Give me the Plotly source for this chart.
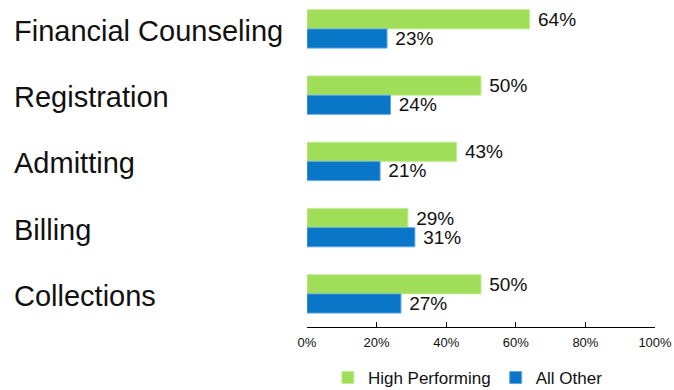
import plotly.graph_objects as go

categories = ["Financial Counseling", "Registration", "Admitting", "Billing", "Collections"]
high_performing = [64, 50, 43, 29, 50]
all_other = [23, 24, 21, 31, 27]
tick_vals = [0, 20, 40, 60, 80, 100]
tick_text = ["0%", "20%", "40%", "60%", "80%", "100%"]

GREEN = "#A0DE5A"
BLUE = "#0A76C8"
FONT = "Liberation Sans, Arial, sans-serif"

fig = go.Figure()
fig.add_trace(go.Bar(
    name="High Performing", y=categories, x=high_performing, orientation="h",
    marker=dict(color=GREEN, line=dict(color="#C4EC96", width=1)),
    text=[f" {v}%" for v in high_performing], textposition="outside",
    constraintext="none",
    textfont=dict(size=19, color="#111111"), cliponaxis=False,
))
fig.add_trace(go.Bar(
    name="All Other", y=categories, x=all_other, orientation="h",
    marker=dict(color=BLUE, line=dict(color="#5FA8E0", width=1)),
    text=[f" {v}%" for v in all_other], textposition="outside",
    constraintext="none",
    textfont=dict(size=19, color="#111111"), cliponaxis=False,
))

for c in categories:
    fig.add_annotation(
        x=-295 / 348, xref="paper", y=c, yref="y", yshift=-2, text=c, showarrow=False,
        xanchor="left", yanchor="middle", font=dict(size=29, color="#111111", family=FONT),
    )

fig.update_layout(
    width=674, height=390,
    margin=dict(l=307, r=19, t=0, b=63, autoexpand=False),
    paper_bgcolor="white", plot_bgcolor="white",
    barmode="group", bargap=0.42, bargroupgap=0,
    font=dict(family=FONT, color="#111111"),
    legend=dict(orientation="h", x=0.06, xanchor="left", y=-0.156, yanchor="middle",
                font=dict(size=17), traceorder="normal", itemwidth=30),
    xaxis=dict(range=[0, 100], tickvals=tick_vals, ticktext=tick_text,
               showgrid=False, zeroline=False, showline=True, linecolor="#000000", linewidth=1,
               ticks="inside", ticklen=5, tickcolor="#000000", tickfont=dict(size=13),
               ticklabelstandoff=3),
    yaxis=dict(categoryorder="array", categoryarray=categories,
               range=[4.5, -0.436], showticklabels=False, showgrid=False,
               zeroline=False, showline=False, ticks=""),
)

fig.write_html("out.html")
